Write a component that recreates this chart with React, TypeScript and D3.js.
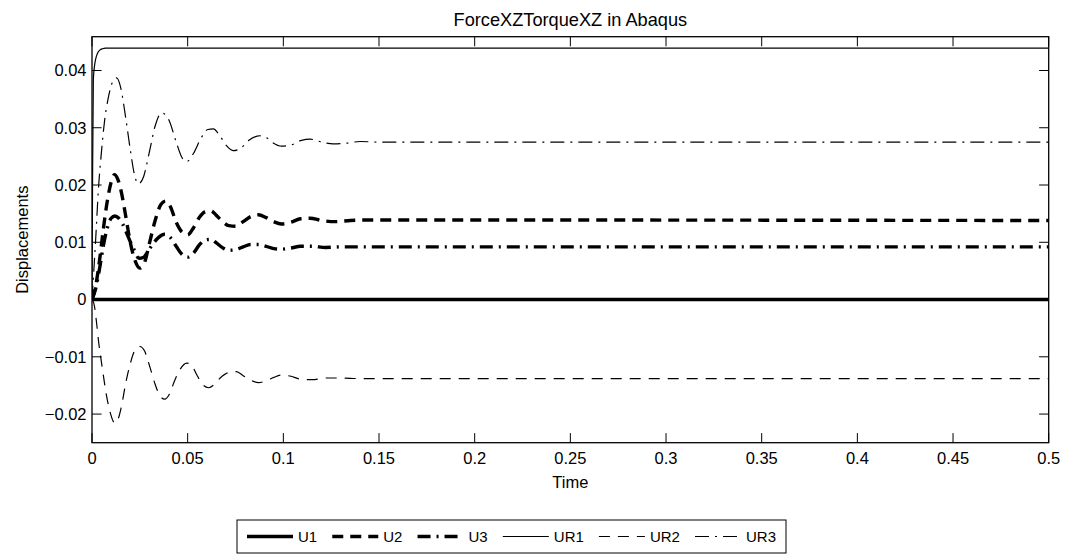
import React from 'react';
import * as d3 from 'd3';

const chartTitle = 'ForceXZTorqueXZ in Abaqus';
const xLabel = 'Time';
const yLabel = 'Displacements';

const xTicks = [0, 0.05, 0.1, 0.15, 0.2, 0.25, 0.3, 0.35, 0.4, 0.45, 0.5];
const xTickLabels = ['0', '0.05', '0.1', '0.15', '0.2', '0.25', '0.3', '0.35', '0.4', '0.45', '0.5'];
const yTicks = [-0.02, -0.01, 0, 0.01, 0.02, 0.03, 0.04];
const yTickLabels = ['\u22120.02', '\u22120.01', '0', '0.01', '0.02', '0.03', '0.04'];

const seriesNames = ['U1', 'U2', 'U3', 'UR1', 'UR2', 'UR3'];

const u1Time = [0, 0.5];
const u1Vals = [0, 0];

const u2Time = [0, 0.002, 0.004, 0.006, 0.008, 0.010, 0.0117, 0.0135, 0.0155, 0.0175, 0.020, 0.0225, 0.025, 0.0275, 0.030, 0.033, 0.036, 0.0385, 0.041, 0.044, 0.047, 0.050, 0.053, 0.056, 0.059, 0.062, 0.065, 0.068, 0.0715, 0.075, 0.079, 0.083, 0.087, 0.091, 0.095, 0.099, 0.104, 0.109, 0.114, 0.12, 0.127, 0.135, 0.145, 0.5];
const u2Vals = [0, 0.0025, 0.007, 0.0125, 0.0172, 0.0205, 0.0218, 0.021, 0.0185, 0.0148, 0.0100, 0.0068, 0.0055, 0.0065, 0.0098, 0.0138, 0.0166, 0.0172, 0.0162, 0.0135, 0.0118, 0.0113, 0.0125, 0.0143, 0.0153, 0.0155, 0.0147, 0.0137, 0.0129, 0.0128, 0.0136, 0.0145, 0.0148, 0.0143, 0.0136, 0.0132, 0.0135, 0.0141, 0.0142, 0.0138, 0.0136, 0.0138, 0.0139, 0.0138];

const u3Time = [0, 0.002, 0.004, 0.006, 0.008, 0.010, 0.012, 0.014, 0.016, 0.018, 0.020, 0.022, 0.0245, 0.027, 0.029, 0.032, 0.035, 0.038, 0.041, 0.044, 0.047, 0.050, 0.053, 0.056, 0.059, 0.062, 0.065, 0.068, 0.0715, 0.075, 0.079, 0.083, 0.087, 0.091, 0.095, 0.099, 0.104, 0.109, 0.115, 0.122, 0.13, 0.14, 0.5];
const u3Vals = [0, 0.002, 0.0055, 0.0095, 0.0125, 0.0142, 0.0146, 0.0142, 0.0132, 0.0117, 0.0101, 0.0087, 0.0072, 0.0074, 0.0083, 0.0098, 0.0109, 0.0114, 0.0108, 0.0093, 0.0079, 0.0074, 0.0081, 0.0095, 0.0104, 0.0105, 0.0099, 0.0091, 0.0086, 0.0087, 0.0092, 0.0096, 0.0096, 0.0093, 0.0089, 0.0088, 0.0090, 0.0093, 0.0093, 0.0091, 0.0092, 0.0092, 0.0092];

const ur1Time = [0, 0.0003, 0.0007, 0.0012, 0.0018, 0.0024, 0.0032, 0.0042, 0.0055, 0.007, 0.5];
const ur1Vals = [0, 0.021, 0.0384, 0.0405, 0.0418, 0.0426, 0.0432, 0.0436, 0.0438, 0.0439, 0.0439];

const ur2Time = [0, 0.0012, 0.0024, 0.0035, 0.005, 0.0065, 0.0077, 0.0095, 0.011, 0.012, 0.0135, 0.0155, 0.0175, 0.020, 0.0225, 0.025, 0.0275, 0.030, 0.033, 0.0355, 0.038, 0.0405, 0.043, 0.046, 0.0495, 0.052, 0.055, 0.058, 0.061, 0.064, 0.067, 0.071, 0.0755, 0.079, 0.083, 0.087, 0.091, 0.095, 0.099, 0.104, 0.109, 0.115, 0.122, 0.13, 0.14, 0.5];
const ur2Vals = [0, -0.001, -0.0041, -0.0075, -0.0111, -0.0145, -0.0170, -0.0197, -0.0212, -0.0216, -0.0210, -0.0185, -0.0148, -0.0112, -0.0088, -0.0082, -0.0090, -0.0115, -0.0148, -0.0168, -0.0174, -0.0165, -0.0143, -0.0122, -0.0111, -0.0115, -0.0133, -0.0149, -0.0154, -0.0148, -0.0137, -0.0128, -0.0126, -0.0133, -0.0141, -0.0145, -0.0142, -0.0136, -0.0132, -0.0134, -0.0139, -0.0140, -0.0137, -0.0137, -0.0138, -0.0138];

const ur3Time = [0, 0.002, 0.0033, 0.005, 0.0065, 0.0085, 0.0105, 0.0129, 0.015, 0.0175, 0.020, 0.0222, 0.0242, 0.027, 0.030, 0.033, 0.0364, 0.040, 0.044, 0.047, 0.0495, 0.053, 0.057, 0.0605, 0.0634, 0.067, 0.0705, 0.0739, 0.078, 0.082, 0.0878, 0.0915, 0.0945, 0.0991, 0.104, 0.1095, 0.114, 0.12, 0.126, 0.133, 0.14, 0.15, 0.5];
const ur3Vals = [0, 0.011, 0.019, 0.026, 0.031, 0.0352, 0.0378, 0.0387, 0.0370, 0.0320, 0.0262, 0.0218, 0.0202, 0.0215, 0.0258, 0.0303, 0.0326, 0.0315, 0.0275, 0.0248, 0.0241, 0.0255, 0.0282, 0.0297, 0.0298, 0.0285, 0.0268, 0.0260, 0.0265, 0.0278, 0.0286, 0.0282, 0.0274, 0.0268, 0.0270, 0.0278, 0.0280, 0.0275, 0.0272, 0.0273, 0.0276, 0.0275, 0.0275];

const seriesTimes = [u1Time, u2Time, u3Time, ur1Time, ur2Time, ur3Time];
const seriesValues = [u1Vals, u2Vals, u3Vals, ur1Vals, ur2Vals, ur3Vals];

const styles = [
  { width: 3.4, dash: null },
  { width: 3.4, dash: '11,7' },
  { width: 3.4, dash: '13,6,2,6' },
  { width: 1.2, dash: null },
  { width: 1.2, dash: '11,8' },
  { width: 1.2, dash: '14,6,2,6' },
];

const FONT = '"Liberation Sans", Arial, Helvetica, sans-serif';

export default function App() {
  const W = 1077;
  const H = 554;
  const left = 92;
  const right = 1048.7;
  const top = 36.7;
  const bottom = 442.7;
  const x = d3.scaleLinear().domain([0, 0.5]).range([left, right]);
  const y = d3.scaleLinear().domain([-0.025, 0.0459]).range([bottom, top]);
  const line = d3
    .line<[number, number]>()
    .x((d) => x(d[0]))
    .y((d) => y(d[1]))
    .curve(d3.curveMonotoneX);

  const tickLen = 9.6;
  const axisFont = 16.5;
  const legendFont = 15;

  // legend layout
  const legTop = 520;
  const legBottom = 553;
  const legLeft = 237;
  const legRight = 786;
  const lineLen = 46;
  const textGap = 5;
  const charW = (s: string) => {
    let w = 0;
    for (const c of s) w += c === 'U' || c === 'R' ? 0.722 : 0.556;
    return w * legendFont;
  };
  const textWidths = seriesNames.map(charW);
  const inner = legRight - legLeft - 20;
  const content = seriesNames.length * (lineLen + textGap) + d3.sum(textWidths);
  const itemGap = (inner - content) / (seriesNames.length - 1);
  const legItems: { lx: number; tx: number }[] = [];
  let cx = legLeft + 10;
  seriesNames.forEach((n, i) => {
    legItems.push({ lx: cx, tx: cx + lineLen + textGap });
    cx += lineLen + textGap + textWidths[i] + itemGap;
  });
  const legMid = (legTop + legBottom) / 2;

  return (
    <div style={{ position: 'absolute', left: 0, top: 0, width: W, height: H, background: '#fff' }}>
      <svg width={W} height={H} style={{ display: 'block', fontFamily: FONT }}>
        <rect x={0} y={0} width={W} height={H} fill="#fff" />
        <defs>
          <clipPath id="plotclip">
            <rect x={left} y={top} width={right - left} height={bottom - top} />
          </clipPath>
        </defs>
        <text x={(left + right) / 2} y={26} textAnchor="middle" fontSize={18.2} fill="#000">
          {chartTitle}
        </text>
        <g clipPath="url(#plotclip)">
          {seriesNames.map((n, i) => {
            const pts = seriesTimes[i].map((t, j) => [t, seriesValues[i][j]] as [number, number]);
            return (
              <path
                key={n}
                d={line(pts) || ''}
                fill="none"
                stroke="#000"
                strokeWidth={styles[i].width}
                strokeDasharray={styles[i].dash || undefined}
                strokeLinejoin="round"
              />
            );
          })}
        </g>
        {xTicks.map((t) => (
          <g key={'xt' + t}>
            <line x1={x(t)} x2={x(t)} y1={bottom} y2={bottom - tickLen} stroke="#000" strokeWidth={1} />
            <line x1={x(t)} x2={x(t)} y1={top} y2={top + tickLen} stroke="#000" strokeWidth={1} />
          </g>
        ))}
        {yTicks.map((t) => (
          <g key={'yt' + t}>
            <line x1={left} x2={left + tickLen} y1={y(t)} y2={y(t)} stroke="#000" strokeWidth={1} />
            <line x1={right} x2={right - tickLen} y1={y(t)} y2={y(t)} stroke="#000" strokeWidth={1} />
          </g>
        ))}
        <rect x={left} y={top} width={right - left} height={bottom - top} fill="none" stroke="#000" strokeWidth={1.3} />
        {xTicks.map((t, i) => (
          <text key={'xl' + t} x={x(t)} y={464} textAnchor="middle" fontSize={axisFont} fill="#000">
            {xTickLabels[i]}
          </text>
        ))}
        {yTicks.map((t, i) => (
          <text key={'yl' + t} x={86.5} y={y(t)} dy="0.35em" textAnchor="end" fontSize={axisFont} fill="#000">
            {yTickLabels[i]}
          </text>
        ))}
        <text x={(left + right) / 2} y={488} textAnchor="middle" fontSize={axisFont} fill="#000">
          {xLabel}
        </text>
        <text
          transform={`translate(28, ${(top + bottom) / 2}) rotate(-90)`}
          textAnchor="middle"
          fontSize={axisFont}
          fill="#000"
        >
          {yLabel}
        </text>
        <rect x={legLeft} y={legTop} width={legRight - legLeft} height={legBottom - legTop} fill="#fff" stroke="#000" strokeWidth={1} />
        {seriesNames.map((n, i) => (
          <g key={'lg' + n}>
            <line
              x1={legItems[i].lx}
              x2={legItems[i].lx + lineLen}
              y1={legMid}
              y2={legMid}
              stroke="#000"
              strokeWidth={styles[i].width}
              strokeDasharray={styles[i].dash || undefined}
            />
            <text x={legItems[i].tx} y={legMid} dy="0.35em" fontSize={legendFont} fill="#000">
              {n}
            </text>
          </g>
        ))}
      </svg>
    </div>
  );
}
